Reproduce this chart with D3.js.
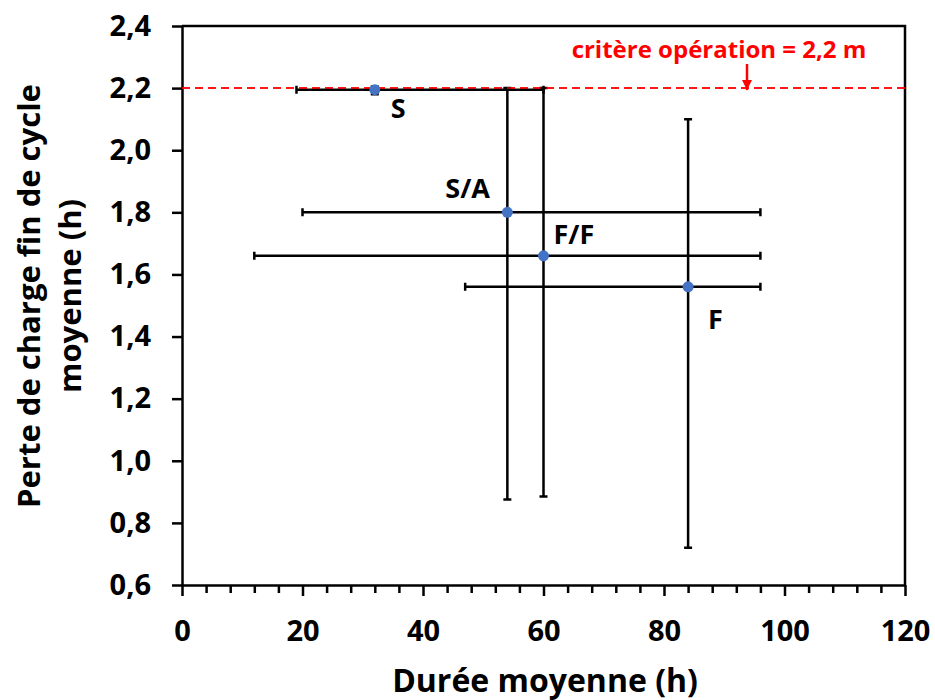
<!DOCTYPE html>
<html>
<head>
<meta charset="utf-8">
<script src="https://cdn.jsdelivr.net/npm/d3@7"></script>
<style>
  html, body { margin: 0; padding: 0; background: #fff; }
  svg { display: block; font-family: "Open Sans", sans-serif; }
</style>
</head>
<body>
<svg id="chart" width="935" height="700"></svg>
<script>
// Filter categories and their mean duration / end-of-cycle head loss
const categories = ["S", "S/A", "F/F", "F"];
const dureeMoy   = [32, 54, 60, 84];
const perteMoy   = [2.195, 1.80, 1.66, 1.56];
// Error-bar extents (min / max) on each axis
const dureeMin   = [19, 20, 12, 47];
const dureeMax   = [60, 96, 96, 96];
const perteMin   = [2.18, 0.875, 0.885, 0.72];
const perteMax   = [2.205, 2.20, 2.20, 2.10];
// Operating criterion
const critere = 2.2;
const critereLabel = "critère opération = 2,2 m";
// Axis ticks
const xMajor = [0, 20, 40, 60, 80, 100, 120];
const xMinor = d3.range(0, 121, 4).filter(v => v % 20 !== 0);
const yTicks = [0.6, 0.8, 1.0, 1.2, 1.4, 1.6, 1.8, 2.0, 2.2, 2.4];

const svg = d3.select("#chart");
const x = d3.scaleLinear().domain([0, 120]).range([182, 905]);
const y = d3.scaleLinear().domain([0.6, 2.4]).range([585, 26]);

const data = categories.map((c, i) => ({
  c, x: dureeMoy[i], y: perteMoy[i],
  x0: dureeMin[i], x1: dureeMax[i], y0: perteMin[i], y1: perteMax[i]
}));

// Plot frame (top and right edges)
svg.append("path")
  .attr("d", `M${x(0)},${y(2.4)}H${x(120)}V${y(0.6)}`)
  .attr("fill", "none").attr("stroke", "#000").attr("stroke-width", 2.5);

// Axes
const fmtY = d => d.toFixed(1).replace(".", ",");
const styleAxis = g => {
  g.select(".domain").attr("stroke-width", 2.5);
  g.selectAll(".tick line").attr("stroke-width", 2.5);
  g.selectAll(".tick text")
    .attr("font-family", "'Open Sans', sans-serif")
    .attr("font-weight", "bold").attr("font-size", 29).attr("fill", "#000");
};

svg.append("g").attr("transform", `translate(0,${y(0.6)})`)
  .call(d3.axisBottom(x).tickValues(xMinor).tickSize(8).tickFormat(""))
  .call(g => g.select(".domain").remove())
  .call(g => g.selectAll(".tick line").attr("stroke-width", 2.5));

svg.append("g").attr("transform", `translate(0,${y(0.6)})`)
  .call(d3.axisBottom(x).tickValues(xMajor).tickSize(11).tickSizeOuter(0).tickPadding(24).tickFormat(d3.format("d")))
  .call(styleAxis);

svg.append("g").attr("transform", `translate(${x(0)},0)`)
  .call(d3.axisLeft(y).tickValues(yTicks).tickSize(10).tickSizeOuter(0).tickPadding(21).tickFormat(fmtY))
  .call(styleAxis);

// Criterion line
const critLine = () => svg.append("line")
  .attr("x1", x(0)).attr("x2", x(120))
  .attr("y1", y(critere)).attr("y2", y(critere))
  .attr("stroke", "#ff0000").attr("stroke-width", 1.5)
  .attr("stroke-dasharray", "8,5");
critLine();

// Error bars
const eb = svg.append("g").attr("stroke", "#000").attr("stroke-width", 2.5).attr("fill", "none");
const cap = 4;
data.forEach(d => {
  eb.append("path").attr("d",
    `M${x(d.x0)},${y(d.y)}H${x(d.x1)}` +
    `M${x(d.x0)},${y(d.y) - cap}V${y(d.y) + cap}` +
    `M${x(d.x1)},${y(d.y) - cap}V${y(d.y) + cap}` +
    `M${x(d.x)},${y(d.y0)}V${y(d.y1)}` +
    `M${x(d.x) - cap},${y(d.y0)}H${x(d.x) + cap}` +
    `M${x(d.x) - cap},${y(d.y1)}H${x(d.x) + cap}`);
});

// Criterion line drawn again over the S error bar
critLine().attr("opacity", 0.85);

// Points
svg.append("g").selectAll("circle").data(data).join("circle")
  .attr("cx", d => x(d.x)).attr("cy", d => y(d.y)).attr("r", 5.5)
  .attr("fill", "#4472c4");

// Point labels
const labelOffsets = { "S": [16, 28], "S/A": [-62, -14], "F/F": [10, -12], "F": [20, 42] };
svg.append("g").selectAll("text").data(data).join("text")
  .attr("x", d => x(d.x) + labelOffsets[d.c][0])
  .attr("y", d => y(d.y) + labelOffsets[d.c][1])
  .attr("font-weight", "bold").attr("font-size", 27)
  .text(d => d.c);

// Criterion annotation with arrow
svg.append("defs").append("marker")
  .attr("id", "arrow").attr("viewBox", "0 0 10 10")
  .attr("refX", 10).attr("refY", 5)
  .attr("markerWidth", 4).attr("markerHeight", 4)
  .attr("markerUnits", "strokeWidth")
  .attr("orient", "auto")
  .append("path").attr("d", "M0,0L10,5L0,10Z").attr("fill", "#ff0000");

svg.append("text")
  .attr("x", 719).attr("y", 58).attr("text-anchor", "middle")
  .attr("fill", "#ff0000").attr("font-weight", "bold").attr("font-size", 24)
  .text(critereLabel);

svg.append("line")
  .attr("x1", 747).attr("x2", 747).attr("y1", 64).attr("y2", y(critere) + 2)
  .attr("stroke", "#ff0000").attr("stroke-width", 2.5)
  .attr("marker-end", "url(#arrow)");

// Axis titles
svg.append("text")
  .attr("x", 545).attr("y", 692).attr("text-anchor", "middle")
  .attr("font-weight", "bold").attr("font-size", 32)
  .text("Durée moyenne (h)");

const yt = svg.append("text")
  .attr("transform", "translate(0,296) rotate(-90)")
  .attr("text-anchor", "middle")
  .attr("font-weight", "bold").attr("font-size", 31);
yt.append("tspan").attr("x", 0).attr("y", 40).text("Perte de charge fin de cycle");
yt.append("tspan").attr("x", 0).attr("y", 81).text("moyenne (h)");
</script>
</body>
</html>
